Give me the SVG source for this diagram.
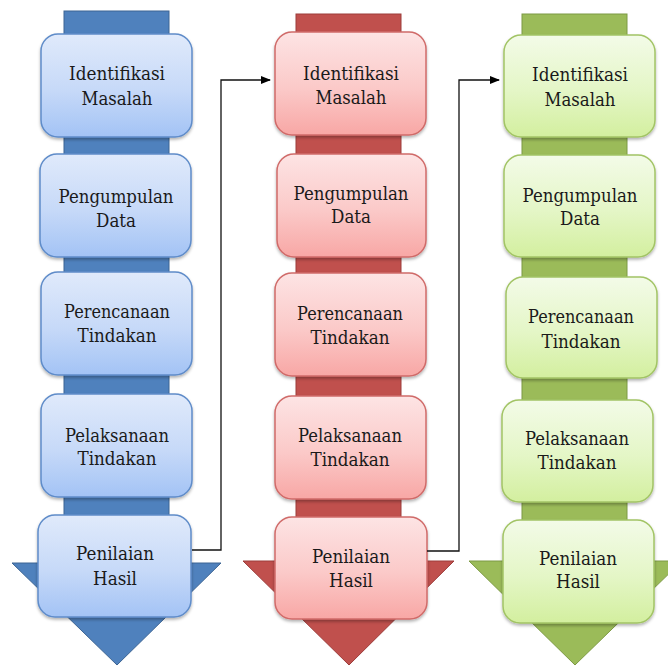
<svg xmlns="http://www.w3.org/2000/svg" width="668" height="667" viewBox="0 0 668 667">
<defs>
<linearGradient id="gBlue" x1="0" y1="0" x2="0" y2="1">
<stop offset="0" stop-color="#e0eafb"/><stop offset="0.55" stop-color="#c6d9f8"/><stop offset="1" stop-color="#a3c3f5"/>
</linearGradient>
<linearGradient id="gRed" x1="0" y1="0" x2="0" y2="1">
<stop offset="0" stop-color="#fde4e4"/><stop offset="0.55" stop-color="#fbc9c8"/><stop offset="1" stop-color="#f8a7a5"/>
</linearGradient>
<linearGradient id="gGreen" x1="0" y1="0" x2="0" y2="1">
<stop offset="0" stop-color="#f3fbe8"/><stop offset="0.55" stop-color="#e4f6c6"/><stop offset="1" stop-color="#d3ef9f"/>
</linearGradient>
<filter id="sh" x="-10%" y="-10%" width="120%" height="125%">
<feDropShadow dx="0" dy="2" stdDeviation="1.6" flood-color="#000" flood-opacity="0.3"/>
</filter>
<marker id="arr" markerWidth="10" markerHeight="8" refX="9" refY="4" orient="auto" markerUnits="userSpaceOnUse">
<path d="M0,0 L10,4 L0,8 Z" fill="#000"/>
</marker>
<style>
.blueS{fill:#4f81bd;stroke:#3d6594;stroke-width:1}
.redS{fill:#c0504d;stroke:#9c3c3a;stroke-width:1}
.greenS{fill:#9bbb59;stroke:#7d9a44;stroke-width:1}
.bBox{fill:url(#gBlue);stroke:#5f8cc9;stroke-width:1.5;filter:url(#sh)}
.rBox{fill:url(#gRed);stroke:#d06b69;stroke-width:1.5;filter:url(#sh)}
.gBox{fill:url(#gGreen);stroke:#a2c465;stroke-width:1.5;filter:url(#sh)}
.lbl{font-size:18.5px;fill:#1a1a1a;text-anchor:middle}
.conn{fill:none;stroke:#111;stroke-width:1.3}
</style>
</defs>
<rect width="668" height="667" fill="#fff"/>

<g id="column-blue">
<rect class="blueS" x="64" y="11" width="105" height="555"/>
<polygon class="blueS" points="12,563 221,563 117,665"/>
</g>
<g id="column-red">
<rect class="redS" x="296" y="14" width="105" height="550"/>
<polygon class="redS" points="243,561 454,561 349,665"/>
</g>
<g id="column-green">
<rect class="greenS" x="522" y="14" width="105" height="550"/>
<polygon class="greenS" points="469,561 682,561 575,665"/>
</g>

<g class="lbl" font-family="'DejaVu Serif', 'Liberation Serif', serif">
<g id="b1"><rect class="bBox" x="41" y="34" width="151" height="103" rx="17"/><text x="117" y="80" textLength="96" lengthAdjust="spacingAndGlyphs">Identifikasi</text><text x="117" y="105" textLength="71" lengthAdjust="spacingAndGlyphs">Masalah</text></g>
<g id="b2"><rect class="bBox" x="40" y="154" width="151" height="103" rx="17"/><text x="116" y="203" textLength="115" lengthAdjust="spacingAndGlyphs">Pengumpulan</text><text x="116" y="227" textLength="40" lengthAdjust="spacingAndGlyphs">Data</text></g>
<g id="b3"><rect class="bBox" x="41" y="272" width="151" height="103" rx="17"/><text x="117" y="318" textLength="106" lengthAdjust="spacingAndGlyphs">Perencanaan</text><text x="117" y="342" textLength="79" lengthAdjust="spacingAndGlyphs">Tindakan</text></g>
<g id="b4"><rect class="bBox" x="41" y="394" width="151" height="103" rx="17"/><text x="117" y="442" textLength="104" lengthAdjust="spacingAndGlyphs">Pelaksanaan</text><text x="117" y="465" textLength="79" lengthAdjust="spacingAndGlyphs">Tindakan</text></g>
<g id="b5"><rect class="bBox" x="38" y="515" width="153" height="102" rx="17"/><text x="115" y="560" textLength="78" lengthAdjust="spacingAndGlyphs">Penilaian</text><text x="115" y="585" textLength="44" lengthAdjust="spacingAndGlyphs">Hasil</text></g>

<g id="r1"><rect class="rBox" x="275" y="32" width="151" height="103" rx="17"/><text x="351" y="80" textLength="96" lengthAdjust="spacingAndGlyphs">Identifikasi</text><text x="351" y="104" textLength="71" lengthAdjust="spacingAndGlyphs">Masalah</text></g>
<g id="r2"><rect class="rBox" x="277" y="154" width="149" height="103" rx="17"/><text x="351" y="200" textLength="115" lengthAdjust="spacingAndGlyphs">Pengumpulan</text><text x="351" y="223" textLength="40" lengthAdjust="spacingAndGlyphs">Data</text></g>
<g id="r3"><rect class="rBox" x="275" y="273" width="151" height="103" rx="17"/><text x="350" y="320" textLength="106" lengthAdjust="spacingAndGlyphs">Perencanaan</text><text x="350" y="344" textLength="79" lengthAdjust="spacingAndGlyphs">Tindakan</text></g>
<g id="r4"><rect class="rBox" x="275" y="396" width="151" height="103" rx="17"/><text x="350" y="442" textLength="104" lengthAdjust="spacingAndGlyphs">Pelaksanaan</text><text x="350" y="466" textLength="79" lengthAdjust="spacingAndGlyphs">Tindakan</text></g>
<g id="r5"><rect class="rBox" x="275" y="517" width="152" height="102" rx="17"/><text x="351" y="563" textLength="78" lengthAdjust="spacingAndGlyphs">Penilaian</text><text x="351" y="587" textLength="44" lengthAdjust="spacingAndGlyphs">Hasil</text></g>

<g id="g1"><rect class="gBox" x="504" y="35" width="151" height="102" rx="17"/><text x="580" y="81" textLength="96" lengthAdjust="spacingAndGlyphs">Identifikasi</text><text x="580" y="106" textLength="71" lengthAdjust="spacingAndGlyphs">Masalah</text></g>
<g id="g2"><rect class="gBox" x="504" y="155" width="151" height="102" rx="17"/><text x="580" y="202" textLength="115" lengthAdjust="spacingAndGlyphs">Pengumpulan</text><text x="580" y="225" textLength="40" lengthAdjust="spacingAndGlyphs">Data</text></g>
<g id="g3"><rect class="gBox" x="506" y="277" width="151" height="101" rx="17"/><text x="581" y="323" textLength="106" lengthAdjust="spacingAndGlyphs">Perencanaan</text><text x="581" y="348" textLength="79" lengthAdjust="spacingAndGlyphs">Tindakan</text></g>
<g id="g4"><rect class="gBox" x="502" y="400" width="151" height="102" rx="17"/><text x="577" y="445" textLength="104" lengthAdjust="spacingAndGlyphs">Pelaksanaan</text><text x="577" y="469" textLength="79" lengthAdjust="spacingAndGlyphs">Tindakan</text></g>
<g id="g5"><rect class="gBox" x="503" y="520" width="151" height="103" rx="17"/><text x="578" y="565" textLength="78" lengthAdjust="spacingAndGlyphs">Penilaian</text><text x="578" y="588" textLength="44" lengthAdjust="spacingAndGlyphs">Hasil</text></g>
</g>

<g id="connectors">
<path class="conn" d="M192,550 H221 V80 H270" marker-end="url(#arr)"/>
<path class="conn" d="M427,551 H459 V80 H499" marker-end="url(#arr)"/>
</g>
</svg>
